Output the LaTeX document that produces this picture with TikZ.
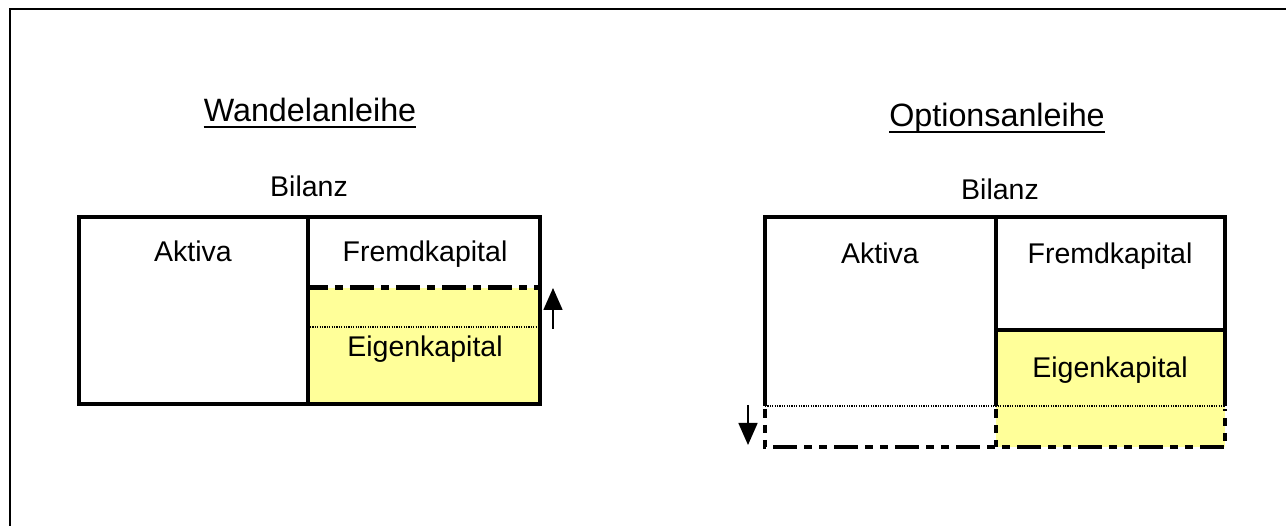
\documentclass[tikz,border=0pt]{standalone}
\usepackage{fontspec}
\setmainfont{Liberation Sans}
\usetikzlibrary{arrows.meta}
\definecolor{ekyellow}{RGB}{255,255,153}
\tikzset{
  txt/.style={anchor=base, inner sep=0pt, font=\fontsize{28.5}{34}\selectfont},
  ttl/.style={anchor=base, inner sep=0pt, font=\fontsize{32.3}{38}\selectfont},
  ulin/.style={line width=2.5pt},
  boxline/.style={line width=4.8pt},
  dashdot/.style={line width=5pt, dash pattern=on 24pt off 7pt on 8pt off 7pt},
  dashdotdot/.style={line width=4.8pt, dash pattern=on 24pt off 7pt on 8pt off 7pt on 8pt off 7pt},
  dotline/.style={line width=1.8pt, dash pattern=on 1.2pt off 1.2pt},
  shiftarrow/.style={line width=1.6pt, -{Triangle[width=19pt,length=22pt]}}
}
\begin{document}
\begin{tikzpicture}[x=1pt,y=-1pt]
\useasboundingbox (0,0) rectangle (1286,526);
% outer frame (only top and left edges fall inside the page)
\draw[line width=2pt] (9.5,526) -- (9.5,9.5) -- (1286,9.5);

% ---------- Wandelanleihe ----------
\node[ttl] (t1) at (310,122) {Wandelanleihe};
\draw[ulin] ([yshift=-5pt]t1.base west) -- ([yshift=-5pt]t1.base east);
\node[txt] (b1) at (309,197) {Bilanz};
\fill[ekyellow] (308,288) rectangle (540,404);
\draw[boxline] (79,217) rectangle (540,404);
\draw[boxline] (308,217) -- (308,404);
\draw[dashdot, dash phase=6pt] (310,288) -- (538,288);
\draw[dotline] (310,327) -- (538,327);
\node[txt] (a1) at (193,262) {Aktiva};
\node[txt] (f1) at (425,262) {Fremdkapital};
\node[txt] (e1) at (425,357) {Eigenkapital};
\coordinate (u1) at (553,329);
\coordinate (u2) at (553,288);
\draw[shiftarrow] (u1) -- (u2);

% ---------- Optionsanleihe ----------
\node[ttl] (t2) at (997,127) {Optionsanleihe};
\draw[ulin] ([yshift=-5pt]t2.base west) -- ([yshift=-5pt]t2.base east);
\node[txt] (b2) at (1000,200) {Bilanz};
\fill[ekyellow] (996,330) rectangle (1225,447);
\draw[boxline] (765,406) -- (765,217) -- (1225,217) -- (1225,406);
\draw[boxline] (996,217) -- (996,406);
\draw[boxline] (996,330) -- (1225,330);
\draw[dotline] (765,406) -- (1225,406);
\draw[dashdotdot, dash phase=15pt] (765,409) -- (765,447) -- (1225,447) -- (1225,409);
\draw[dashdotdot, dash phase=15pt] (996,409) -- (996,447);
\node[txt] (a2) at (880,264) {Aktiva};
\node[txt] (f2) at (1110,264) {Fremdkapital};
\node[txt] (e2) at (1110,378) {Eigenkapital};
\coordinate (d1) at (748,405);
\coordinate (d2) at (748,445);
\draw[shiftarrow] (d1) -- (d2);
\end{tikzpicture}
\end{document}
